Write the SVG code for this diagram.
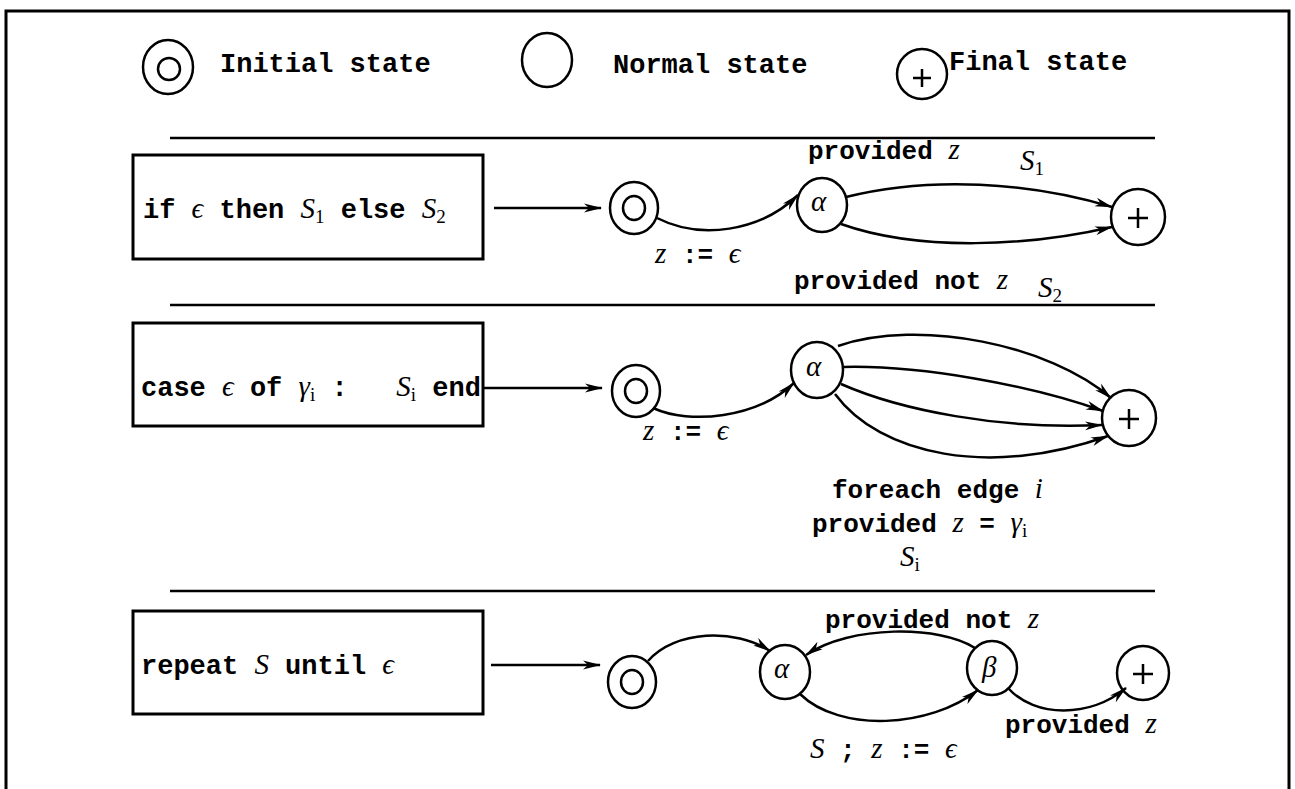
<svg xmlns="http://www.w3.org/2000/svg" width="1295" height="789" viewBox="0 0 1295 789">
<style>
.st{fill:none;stroke:#000;stroke-width:2.5}
.bx{fill:none;stroke:#000;stroke-width:3}
.tt{font-family:"Liberation Mono",monospace;font-weight:bold;font-size:27px;fill:#000}
.lb{font-family:"Liberation Mono",monospace;font-weight:bold;font-size:26px;fill:#000}
.mi{font-family:"Liberation Serif",serif;font-style:italic;font-size:29px;font-weight:normal}
.sub{font-family:"Liberation Serif",serif;font-style:normal;font-size:19px;font-weight:normal}
.ed{fill:none;stroke:#000;stroke-width:2.5;marker-end:url(#ah)}
.sep{stroke:#000;stroke-width:2.5}
</style>
<defs>
<marker id="ah" markerUnits="userSpaceOnUse" markerWidth="18" markerHeight="10" refX="17" refY="5" orient="auto">
<path d="M0,0.5 L18,5 L0,9.5 L5,5 z" fill="#000"/>
</marker>
</defs>
<rect width="1295" height="789" fill="#fff"/>
<path class="bx" d="M6,789 L6,11 L1289,11 L1289,789"/>

<g id="legend">
<g id="legend-initial">
<ellipse class="st" cx="168" cy="67" rx="25" ry="27"/>
<ellipse class="st" cx="169" cy="69" rx="11" ry="11"/>
<text class="tt" x="220" y="72">Initial state</text>
</g>
<g id="legend-normal">
<ellipse class="st" cx="547" cy="60" rx="25" ry="27"/>
<text class="tt" x="613" y="73">Normal state</text>
</g>
<g id="legend-final">
<ellipse class="st" cx="922" cy="74" rx="25" ry="25"/>
<path class="st" d="M913,78 h18 M922,69 v18"/>
<text class="tt" x="949" y="70">Final state</text>
</g>
</g>

<g id="separators">
<line class="sep" x1="170" y1="138" x2="1155" y2="138"/>
<line class="sep" x1="170" y1="305" x2="1155" y2="305"/>
<line class="sep" x1="170" y1="591" x2="1155" y2="591"/>
</g>

<!-- Row 1 -->
<g id="box-if">
<rect class="bx" x="133" y="155" width="350" height="104"/>
<text class="tt" x="143" y="218">if <tspan class="mi">ϵ</tspan> then <tspan class="mi">S</tspan><tspan class="sub" dy="5">1</tspan><tspan dy="-5"> else </tspan><tspan class="mi">S</tspan><tspan class="sub" dy="5">2</tspan></text>
</g>
<g id="if-init">
<ellipse class="st" cx="634" cy="208" rx="24" ry="26"/>
<ellipse class="st" cx="634" cy="208" rx="11" ry="12"/>
</g>
<g id="if-alpha">
<ellipse class="st" cx="822" cy="205" rx="25" ry="27"/>
<text class="mi" x="811" y="211" font-size="26">α</text>
</g>
<g id="if-final">
<ellipse class="st" cx="1138" cy="217" rx="27" ry="28"/>
<path class="st" d="M1128,218 h20 M1138,208 v20"/>
</g>

<!-- Row 2 -->
<g id="box-case">
<rect class="bx" x="133" y="323" width="350" height="103"/>
<text class="tt" x="141" y="396" xml:space="preserve">case <tspan class="mi">ϵ</tspan> of <tspan class="mi">γ</tspan><tspan class="sub mi" dy="5">i</tspan><tspan dy="-5"> :   </tspan><tspan class="mi">S</tspan><tspan class="sub mi" dy="5">i</tspan><tspan dy="-5"> end</tspan></text>
</g>
<g id="case-init">
<ellipse class="st" cx="636" cy="391" rx="24" ry="26"/>
<ellipse class="st" cx="636" cy="391" rx="11" ry="12"/>
</g>
<g id="case-alpha">
<ellipse class="st" cx="817" cy="370" rx="26" ry="28"/>
<text class="mi" x="806" y="376" font-size="26">α</text>
</g>
<g id="case-final">
<ellipse class="st" cx="1129" cy="418" rx="27" ry="28"/>
<path class="st" d="M1119,419 h20 M1129,409 v20"/>
</g>

<!-- Row 3 -->
<g id="box-repeat">
<rect class="bx" x="133" y="611" width="350" height="103"/>
<text class="tt" x="141" y="674">repeat <tspan class="mi">S</tspan> until <tspan class="mi">ϵ</tspan></text>
</g>
<g id="rep-init">
<ellipse class="st" cx="632" cy="682" rx="24" ry="26"/>
<ellipse class="st" cx="632" cy="682" rx="11" ry="12"/>
</g>
<g id="rep-alpha">
<ellipse class="st" cx="785" cy="672" rx="25" ry="27"/>
<text class="mi" x="774" y="678" font-size="26">α</text>
</g>
<g id="rep-beta">
<ellipse class="st" cx="992" cy="668" rx="25" ry="27"/>
<text class="mi" x="982" y="677" font-size="28">β</text>
</g>
<g id="rep-final">
<ellipse class="st" cx="1143" cy="673" rx="26" ry="27"/>
<path class="st" d="M1133,674 h20 M1143,664 v20"/>
</g>

<g id="connectors">
<!-- row 1 -->
<path class="ed" d="M494,208 L601,208"/>
<path class="ed" d="M657,218 C700,240 760,232 798,195"/>
<path class="ed" d="M846,197 C930,176 1030,182 1112,207"/>
<path class="ed" d="M841,224 C920,252 1030,246 1112,227"/>
<!-- row 2 -->
<path class="ed" d="M484,388 L602,388"/>
<path class="ed" d="M653,408 C690,425 757,418 794,383"/>
<path class="ed" d="M838,346 C920,318 1050,345 1111,398"/>
<path class="ed" d="M843,367 C920,365 1030,385 1103,411"/>
<path class="ed" d="M841,384 C900,410 1000,430 1102,425"/>
<path class="ed" d="M835,394 C880,455 990,478 1108,436"/>
<!-- row 3 -->
<path class="ed" d="M491,665 L600,665"/>
<path class="ed" d="M648,661 C675,630 735,628 770,651"/>
<path class="ed" d="M975,648 C940,625 850,625 806,655"/>
<path class="ed" d="M800,694 C840,733 930,728 978,690"/>
<path class="ed" d="M1008,688 C1035,718 1090,718 1126,688"/>
</g>

<g id="labels">
<text class="lb" x="655" y="263"><tspan class="mi">z</tspan> := <tspan class="mi">ϵ</tspan></text>
<text class="lb" x="808" y="159">provided <tspan class="mi">z</tspan></text>
<text class="mi" x="1020" y="170">S<tspan class="sub" dy="5">1</tspan></text>
<text class="lb" x="794" y="289">provided not <tspan class="mi">z</tspan></text>
<text class="mi" x="1038" y="297">S<tspan class="sub" dy="5">2</tspan></text>

<text class="lb" x="643" y="440"><tspan class="mi">z</tspan> := <tspan class="mi">ϵ</tspan></text>
<text class="lb" x="832" y="498">foreach edge <tspan class="mi">i</tspan></text>
<text class="lb" x="812" y="532">provided <tspan class="mi">z</tspan> = <tspan class="mi">γ</tspan><tspan class="sub mi" dy="5">i</tspan></text>
<text class="mi" x="900" y="566">S<tspan class="sub mi" dy="5">i</tspan></text>

<text class="lb" x="825" y="628">provided not <tspan class="mi">z</tspan></text>
<text class="lb" x="1005" y="733">provided <tspan class="mi">z</tspan></text>
<text class="lb" x="810" y="758"><tspan class="mi">S</tspan> ; <tspan class="mi">z</tspan> := <tspan class="mi">ϵ</tspan></text>
</g>
</svg>
